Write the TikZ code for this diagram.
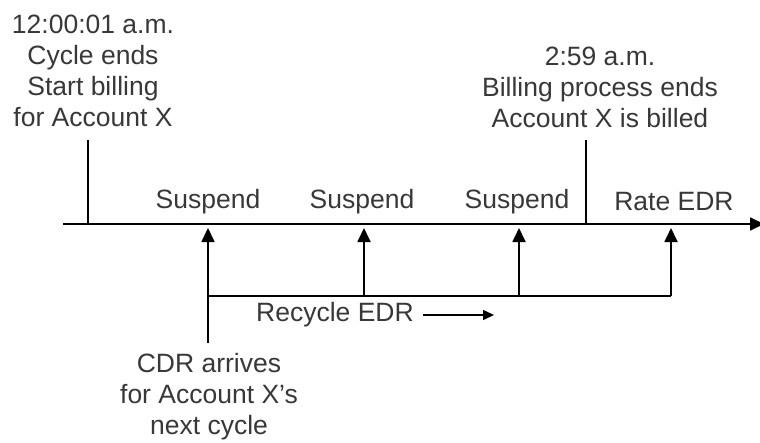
\documentclass[tikz,border=0pt]{standalone}
\usepackage{fontspec}
\setmainfont{Liberation Sans}
\usetikzlibrary{arrows.meta}
\begin{document}
\begin{tikzpicture}[x=1pt,y=-1pt,
  txt/.style={text=black!78, font=\fontsize{26.5}{31}\selectfont, align=center, inner sep=0pt},
  ln/.style={draw=black, line width=1.8pt},
  up/.style={ln, -{Triangle[width=13pt,length=14pt]}},
  small/.style={draw=black, line width=1.5pt, -{Triangle[width=10pt,length=11pt]}}]
\useasboundingbox (0,0) rectangle (760,442);
% coordinates
\coordinate (tl0) at (63,224);
\coordinate (tl1) at (764,224);
\coordinate (tkLtop) at (88,140);
\coordinate (tkLbot) at (88,224);
\coordinate (tkRtop) at (586,140);
\coordinate (tkRbot) at (586,224);
\coordinate (src) at (208,343);
\coordinate (t1) at (208,228);
\coordinate (t2) at (364,228);
\coordinate (t3) at (519,228);
\coordinate (t4) at (671,228);
\coordinate (b1) at (208,296);
\coordinate (b2) at (364,296);
\coordinate (b3) at (519,296);
\coordinate (b4) at (671,296);
\coordinate (r0) at (423,315);
\coordinate (r1) at (494,315);
% texts
\node[txt] (start) at (93,71) {12:00:01 a.m.\\Cycle ends\\Start billing\\for Account X};
\node[txt] (end) at (600,87) {2:59 a.m.\\Billing process ends\\Account X is billed};
\node[txt] (s1) at (208,202) {Suspend};
\node[txt] (s2) at (362,202) {Suspend};
\node[txt] (s3) at (517,202) {Suspend};
\node[txt] (rate) at (674,202) {Rate EDR};
\node[txt] (rec) at (335,315) {Recycle EDR};
\node[txt] (cdr) at (209,397) {CDR arrives\\for Account X's\\next cycle};
% timeline
\draw[ln, -{Triangle[width=13pt,length=14pt]}] (tl0) -- (tl1);
\draw[ln] (tkLtop) -- (tkLbot);
\draw[ln] (tkRtop) -- (tkRbot);
% arrows
\draw[up] (src) -- (t1);
\draw[ln] (b1) -- (b4);
\draw[up] (b2) -- (t2);
\draw[up] (b3) -- (t3);
\draw[up] (b4) -- (t4);
\draw[small] (r0) -- (r1);
\end{tikzpicture}
\end{document}
